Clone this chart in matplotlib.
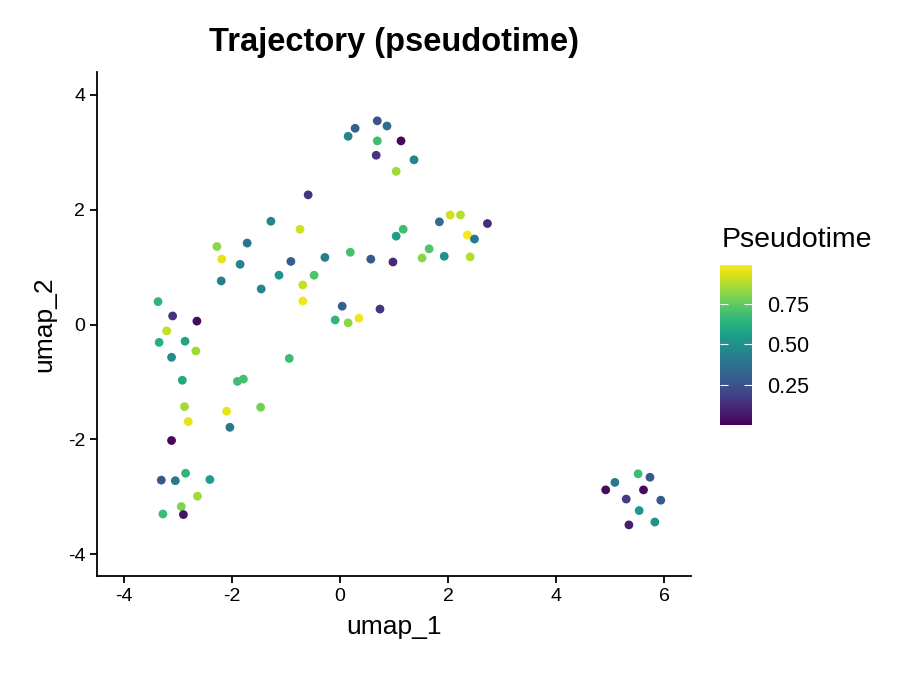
import numpy as np
import matplotlib
matplotlib.use("Agg")
import matplotlib.pyplot as plt

plt.rcParams['font.family'] = ['Liberation Sans', 'DejaVu Sans']

# cell embedding and pseudotime colour value
umap_1 = [0.69, 0.28, 0.87, 0.15, 0.69, 1.13, 0.67, 1.37, 1.04,
          -0.59, -1.28, -0.74, -2.28, -1.72, -2.19, -1.85, -0.91, -0.28, 0.19, 0.57, 0.98,
          -2.20, -1.13, -0.48, -1.46, -0.69, -0.69, 0.04, 0.74, -0.09, 0.15, 0.35,
          1.84, 2.04, 2.23, 2.73, 2.36, 2.49, 1.17, 1.04, 1.65, 1.52, 1.93, 2.41,
          -3.37, -3.10, -2.65, -3.21, -3.35, -2.87, -2.67, -3.12, -0.94, -2.92, -1.90, -1.79,
          -2.88, -1.47, -2.10, -2.81, -2.04, -3.12, -2.86, -3.31, -3.05, -2.41, -2.64, -2.94,
          -3.28, -2.90,
          5.52, 5.74, 5.09, 4.92, 5.62, 5.30, 5.94, 5.54, 5.83, 5.35]
umap_2 = [3.55, 3.42, 3.46, 3.28, 3.20, 3.20, 2.95, 2.87, 2.67,
          2.26, 1.80, 1.66, 1.36, 1.42, 1.14, 1.05, 1.10, 1.17, 1.26, 1.14, 1.09,
          0.76, 0.86, 0.86, 0.62, 0.69, 0.41, 0.32, 0.27, 0.08, 0.03, 0.11,
          1.79, 1.91, 1.91, 1.76, 1.56, 1.49, 1.66, 1.54, 1.32, 1.16, 1.19, 1.18,
          0.40, 0.15, 0.06, -0.11, -0.31, -0.29, -0.46, -0.57, -0.59, -0.97, -0.99, -0.95,
          -1.43, -1.44, -1.51, -1.69, -1.79, -2.02, -2.59, -2.71, -2.72, -2.70, -2.99, -3.17,
          -3.30, -3.31,
          -2.60, -2.66, -2.75, -2.88, -2.88, -3.04, -3.06, -3.24, -3.44, -3.49]
pseudotime = [0.25, 0.30, 0.35, 0.45, 0.68, 0.02, 0.15, 0.45, 0.85,
              0.15, 0.45, 0.92, 0.82, 0.38, 0.95, 0.45, 0.30, 0.42, 0.70, 0.28, 0.12,
              0.42, 0.52, 0.72, 0.45, 0.90, 0.97, 0.30, 0.15, 0.65, 0.82, 0.97,
              0.35, 0.92, 0.88, 0.12, 0.98, 0.40, 0.68, 0.55, 0.72, 0.82, 0.50, 0.88,
              0.65, 0.15, 0.03, 0.90, 0.62, 0.58, 0.85, 0.48, 0.68, 0.60, 0.68, 0.70,
              0.85, 0.78, 0.95, 0.95, 0.40, 0.02, 0.65, 0.27, 0.40, 0.55, 0.85, 0.80,
              0.68, 0.05,
              0.68, 0.28, 0.40, 0.03, 0.03, 0.18, 0.28, 0.52, 0.50, 0.08]

x_ticks = [-4, -2, 0, 2, 4, 6]
y_ticks = [-4, -2, 0, 2, 4]
bar_ticks = [0.25, 0.5, 0.75]

fig = plt.figure(figsize=(9, 6.75), dpi=100)
ax = fig.add_axes([0.1078, 0.1467, 0.6600, 0.7466])

sc = ax.scatter(umap_1, umap_2, c=pseudotime, cmap='viridis', s=40,
                linewidths=0, vmin=0.003, vmax=0.99)

ax.set_xlim(-4.5, 6.5)
ax.set_ylim(-4.38, 4.40)
ax.set_xticks(x_ticks)
ax.set_yticks(y_ticks)
ax.set_xticklabels([str(t) for t in x_ticks])
ax.set_yticklabels([str(t) for t in y_ticks])
for side in ['top', 'right']:
    ax.spines[side].set_visible(False)
for side in ['left', 'bottom']:
    ax.spines[side].set_linewidth(1.3)
ax.tick_params(length=5, width=1.3, labelsize=14, colors='black')
ax.set_xlabel('umap_1', fontsize=19, labelpad=7)
ax.set_ylabel('umap_2', fontsize=19, labelpad=8)
ax.set_title('Trajectory (pseudotime)', fontsize=23.5, fontweight='bold', pad=15)

# colour bar on the right, ggplot style
cax = fig.add_axes([0.8, 0.3704, 0.0356, 0.237])
cb = fig.colorbar(sc, cax=cax, ticks=bar_ticks)
cb.outline.set_visible(False)
cb.ax.set_yticklabels(['0.25', '0.50', '0.75'])
cb.ax.tick_params(direction='in', length=6, width=0.8, colors='white',
                  labelcolor='black', labelsize=15.5, left=True, right=True, pad=11)
fig.text(0.802, 0.645, 'Pseudotime', fontsize=20.5, ha='left', va='center')

fig.savefig('out.png', dpi=100)
